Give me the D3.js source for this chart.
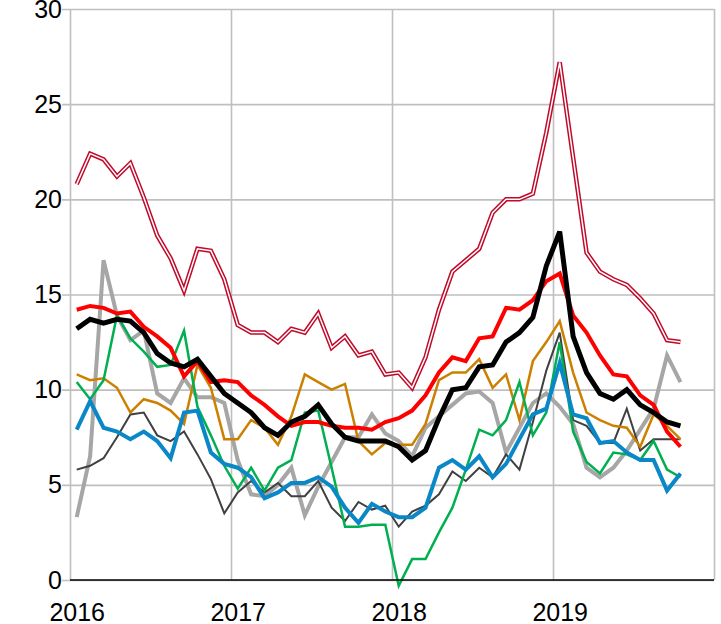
<!DOCTYPE html>
<html lang="en">
  <head>
    <meta charset="UTF-8" />
    <title>Monthly series 2016-2019</title>
    <script src="https://d3js.org/d3.v7.min.js"></script>
    <style>
      body {
        margin: 0;
        background: #fff;
      }
      svg {
        display: block;
      }
      .tick text {
        font-family: "Liberation Sans", Arial, sans-serif;
        font-size: 25px;
        fill: #000;
      }
      .line {
        fill: none;
        stroke-linejoin: miter;
      }
    </style>
  </head>
  <body>
    <svg width="721" height="624"></svg>
    <script>
      // monthly values, Jan 2016 .. Oct 2019
      const startYear = 2016;
      const years = [2016, 2017, 2018, 2019];
      const yTicks = [0, 5, 10, 15, 20, 25, 30];

      const wine = [20.8, 22.4, 22.1, 21.2, 21.9, 20.1, 18.1, 16.9, 15.2, 17.4, 17.3, 15.8,
        13.4, 13.0, 13.0, 12.5, 13.2, 13.0, 14.0, 12.2, 12.8, 11.8, 12.0, 10.8,
        10.9, 10.1, 11.7, 14.2, 16.2, 16.8, 17.4, 19.3, 20.0, 20.0, 20.3, 23.5,
        27.2, 22.2, 17.2, 16.2, 15.8, 15.5, 14.8, 14.0, 12.6, 12.5];
      const black = [13.2, 13.7, 13.5, 13.7, 13.6, 13.0, 11.9, 11.4, 11.2, 11.6, 10.7, 9.8,
        9.3, 8.8, 8.0, 7.6, 8.3, 8.6, 9.2, 8.2, 7.5, 7.3, 7.3, 7.3,
        7.0, 6.3, 6.8, 8.5, 10.0, 10.1, 11.2, 11.3, 12.5, 13.0, 13.8, 16.5,
        18.3, 12.8, 10.9, 9.8, 9.5, 10.0, 9.2, 8.8, 8.3, 8.1];
      const red = [14.2, 14.4, 14.3, 14.0, 14.1, 13.3, 12.8, 12.2, 10.7, 11.5, 10.4, 10.5,
        10.4, 9.7, 9.2, 8.6, 8.1, 8.3, 8.3, 8.1, 8.0, 8.0, 7.9, 8.3,
        8.5, 8.9, 9.7, 10.9, 11.7, 11.5, 12.7, 12.8, 14.3, 14.2, 14.7, 15.7,
        16.1, 13.9, 13.0, 11.8, 10.8, 10.7, 9.7, 9.2, 7.8, 7.0];
      const orange = [10.8, 10.5, 10.6, 10.1, 8.8, 9.5, 9.3, 8.9, 8.2, 11.3, 10.1, 7.4,
        7.4, 8.4, 8.0, 7.1, 8.6, 10.8, 10.4, 10.0, 10.3, 7.3, 6.6, 7.2,
        7.1, 7.1, 8.2, 10.5, 10.9, 10.9, 11.6, 10.1, 10.8, 8.4, 11.5, 12.5,
        13.6, 10.9, 8.8, 8.4, 8.1, 8.0, 7.0, 8.7, 8.1, 7.4];
      const lightGrey = [3.3, 6.5, 16.8, 13.9, 12.6, 13.1, 9.8, 9.3, 10.6, 9.6, 9.6, 9.3,
        6.3, 4.5, 4.4, 5.0, 5.9, 3.4, 4.9, 6.2, 7.5, 7.5, 8.7, 7.7,
        7.3, 6.5, 8.0, 8.6, 9.2, 9.8, 9.9, 9.3, 6.7, 8.0, 9.3, 9.8,
        9.1, 8.2, 5.9, 5.4, 5.9, 6.8, 7.9, 9.0, 11.8, 10.4];
      const green = [10.4, 9.5, 10.5, 13.9, 12.7, 12.0, 11.2, 11.3, 13.1, 9.1, 7.6, 6.0,
        4.8, 5.9, 4.7, 5.9, 6.3, 8.8, 8.9, 5.9, 2.8, 2.8, 2.9, 2.9,
        -0.3, 1.1, 1.1, 2.5, 3.8, 5.8, 7.9, 7.6, 8.4, 10.4, 7.6, 8.8,
        12.5, 7.8, 6.2, 5.6, 6.7, 6.6, 6.3, 7.3, 5.8, 5.4];
      const blue = [7.9, 9.4, 8.0, 7.8, 7.4, 7.8, 7.3, 6.4, 8.8, 8.9, 6.7, 6.1,
        5.9, 5.4, 4.3, 4.6, 5.1, 5.1, 5.4, 4.9, 3.8, 3.0, 4.0, 3.6,
        3.3, 3.3, 3.8, 5.9, 6.3, 5.8, 6.5, 5.4, 6.1, 7.4, 8.7, 9.0,
        11.4, 8.7, 8.5, 7.2, 7.3, 6.7, 6.3, 6.3, 4.7, 5.6];
      const darkGrey = [5.8, 6.0, 6.4, 7.5, 8.7, 8.8, 7.6, 7.3, 7.8, 6.6, 5.3, 3.5,
        4.6, 5.2, 4.6, 5.1, 4.4, 4.4, 5.2, 3.8, 3.1, 4.1, 3.7, 3.9,
        2.8, 3.6, 3.9, 4.5, 5.7, 5.2, 5.9, 5.4, 6.6, 5.8, 8.3, 11.0,
        13.0, 8.4, 8.1, 7.2, 7.2, 9.0, 6.8, 7.4, 7.4, 7.4];

      // drawing order: first is at the bottom
      const series = [
        { values: lightGrey, color: "#A6A6A6", width: 4 },
        { values: darkGrey, color: "#404040", width: 2 },
        { values: orange, color: "#CC8000", width: 2.5 },
        { values: green, color: "#00B050", width: 2.5 },
        { values: blue, color: "#0A87C6", width: 4 },
        { values: red, color: "#FF0000", width: 4 },
        { values: black, color: "#000000", width: 5 },
      ];

      const svg = d3.select("svg");
      const MARGIN = { TOP: 9, LEFT: 70, RIGHT: 7, BOTTOM: 44 };
      const WIDTH = +svg.attr("width") - MARGIN.LEFT - MARGIN.RIGHT;
      const HEIGHT = +svg.attr("height") - MARGIN.TOP - MARGIN.BOTTOM;

      const g = svg
        .append("g")
        .attr("transform", `translate(${MARGIN.LEFT}, ${MARGIN.TOP})`);

      const X = d3.scaleLinear().domain([2016, 2020]).range([0, WIDTH]);
      const Y = d3.scaleLinear().domain([0, 30]).range([HEIGHT, 0]);

      // month index -> middle of that month
      const monthPos = (i) => startYear + (i + 0.5) / 12;

      // horizontal grid + y labels
      const yAxis = g
        .append("g")
        .call(
          d3.axisLeft(Y).tickValues(yTicks).tickSize(-WIDTH).tickPadding(8)
        );
      yAxis.select(".domain").remove();
      yAxis
        .selectAll(".tick line")
        .attr("x1", -8)
        .attr("stroke", "#BFBFBF")
        .attr("stroke-width", 1.6);

      // vertical grid at year boundaries and right border
      const xGrid = g
        .append("g")
        .attr("transform", `translate(0, ${HEIGHT})`)
        .call(
          d3.axisBottom(X).tickValues([2016, 2017, 2018, 2019, 2020])
            .tickSize(-HEIGHT).tickFormat("")
        );
      xGrid.select(".domain").remove();
      xGrid
        .selectAll(".tick line")
        .attr("stroke", "#BFBFBF")
        .attr("stroke-width", 1.6);

      // year labels sit under January of each year
      const xLabels = g
        .append("g")
        .attr("transform", `translate(0, ${HEIGHT})`)
        .call(
          d3.axisBottom(X)
            .tickValues(years.map((y) => y + 0.5 / 12))
            .tickFormat((d) => Math.floor(d))
            .tickSize(0)
            .tickPadding(23)
        );
      xLabels.select(".domain").remove();

      const line = d3
        .line()
        .x((d, i) => X(monthPos(i)))
        .y((d) => Y(d));

      const paths = g.append("g").attr("class", "paths");

      series.forEach((s) => {
        paths
          .append("path")
          .datum(s.values)
          .attr("class", "line")
          .attr("stroke", s.color)
          .attr("stroke-width", s.width)
          .attr("d", line);
      });

      // double (outlined) wine line
      paths
        .append("path")
        .datum(wine)
        .attr("class", "line")
        .attr("stroke", "#C00A2A")
        .attr("stroke-width", 4.5)
        .attr("d", line);
      paths
        .append("path")
        .datum(wine)
        .attr("class", "line")
        .attr("stroke", "#fff")
        .attr("stroke-width", 1.5)
        .attr("d", line);

      // x axis line
      g.append("line")
        .attr("x1", 0)
        .attr("x2", WIDTH)
        .attr("y1", Y(0))
        .attr("y2", Y(0))
        .attr("stroke", "#000")
        .attr("stroke-width", 1.6);
    </script>
  </body>
</html>
